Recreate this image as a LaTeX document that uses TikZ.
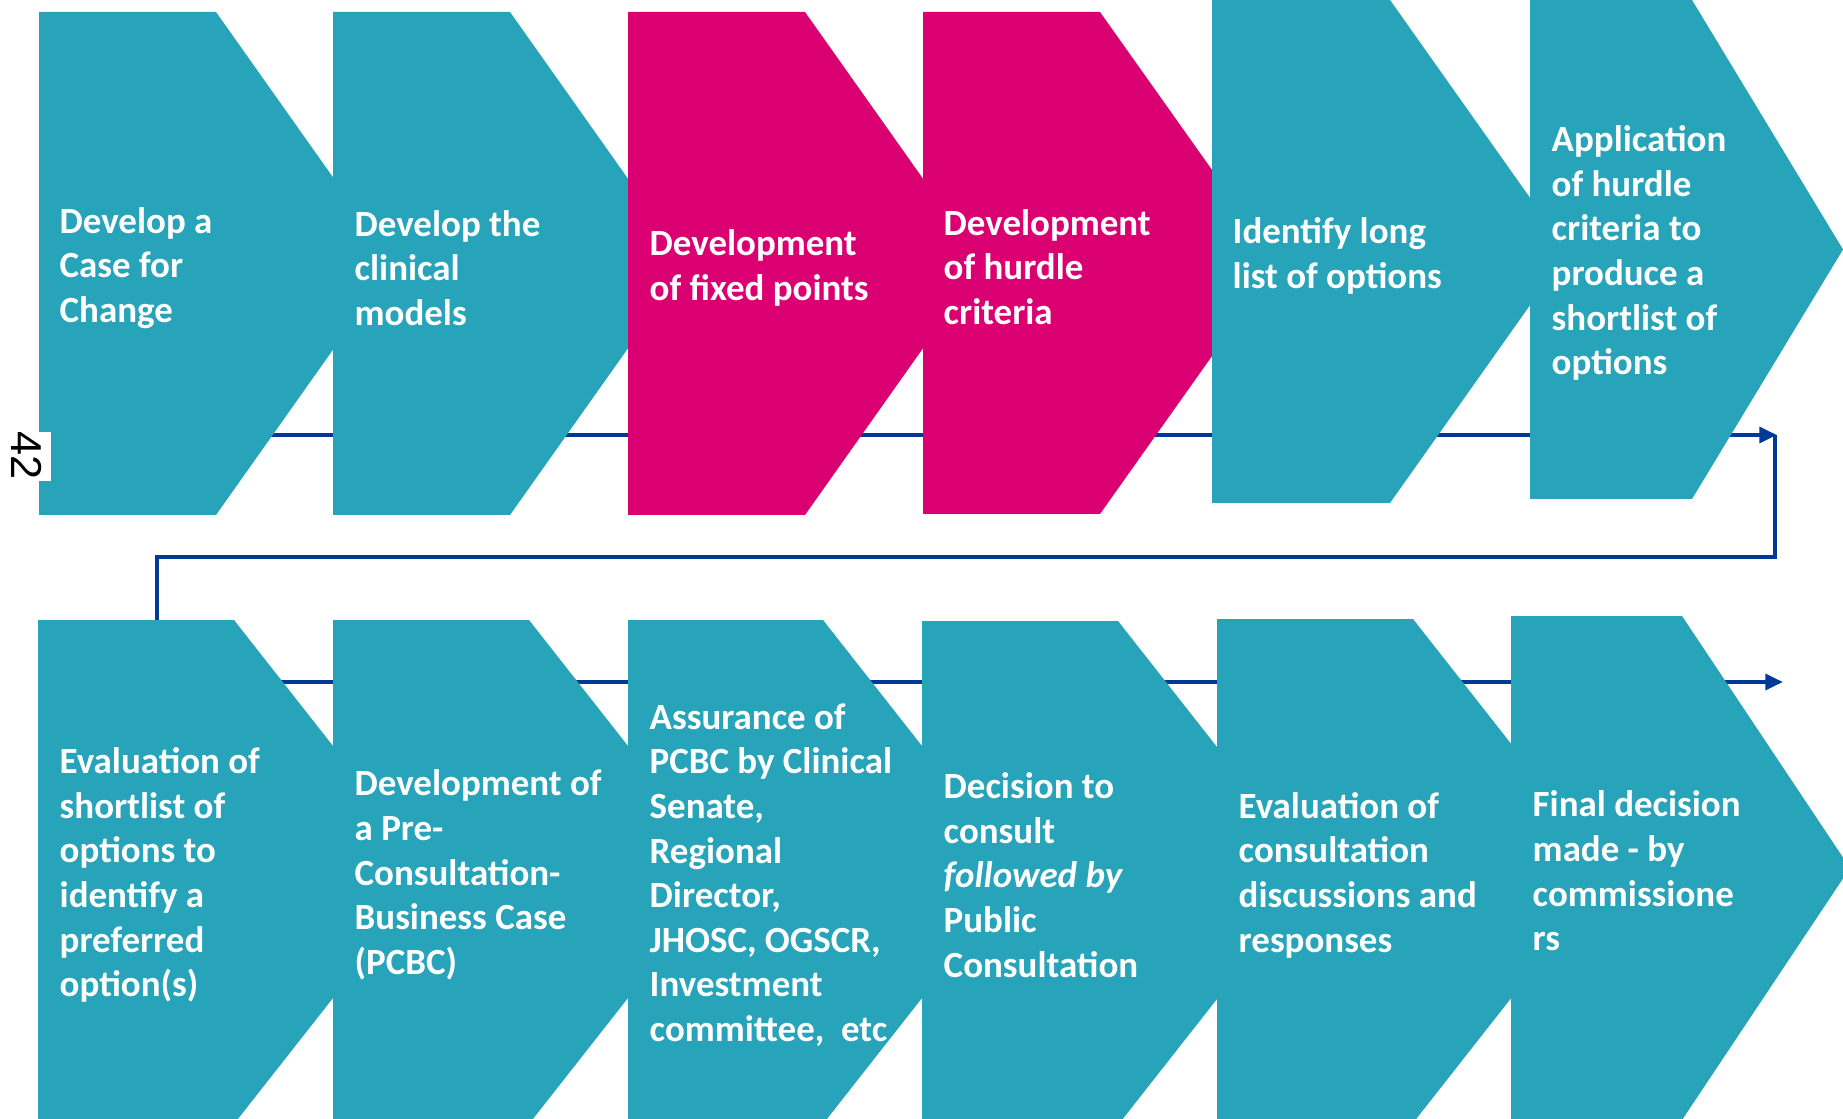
\documentclass[tikz,border=0pt]{standalone}
\usepackage{fontspec}
\setmainfont{Carlito}
\newfontfamily\pagefont{Liberation Sans}
\usetikzlibrary{arrows.meta}

\definecolor{nhsteal}{RGB}{39,164,185}
\definecolor{nhspink}{RGB}{219,0,114}
\definecolor{flowblue}{RGB}{0,58,150}

\tikzset{
	steptext/.style={anchor=west, inner sep=0pt, align=left, text=white,
		font=\bfseries\fontsize{10.5}{12.7}\selectfont},
	flow/.style={draw=flowblue, line width=1.2pt},
	flowarrow/.style={flow, -{Triangle[length=5pt, width=4.4pt]}}
}

\begin{document}
\begin{tikzpicture}[x=0.01cm, y=-0.01cm]
	\useasboundingbox (0,0) rectangle (1843,1119);
	\clip (0,0) rectangle (1843,1119);

	% connectors behind the stages
	\coordinate (r1start) at (150,435);
	\coordinate (r1end) at (1777,435);
	\coordinate (r1turn) at (1775,557);
	\coordinate (r2top) at (157,620);
	\coordinate (r2start) at (150,682);
	\coordinate (r2end) at (1783,682);
	\draw[flowarrow] (r1start) -- (r1end);
	\draw[flow] (1775,435) -- (r1turn) -| (r2top);
	\draw[flowarrow] (r2start) -- (r2end);

	% stages: left/top/corner/tip/height/colour
	\foreach \l/\t/\r/\p/\h/\c in {
		39/12/216/394/503/nhsteal, 333/12/510/688/503/nhsteal,
		628/12/805/983/503/nhspink, 923/12/1100/1278/502/nhspink,
		1212/0/1390/1568/503/nhsteal, 1530/0/1692/1843/499/nhsteal,
		38/620/234/432/504/nhsteal, 333/620/529/727/504/nhsteal,
		628/620/823/1021/504/nhsteal, 922/621/1118/1316/504/nhsteal,
		1217/619/1413/1611/504/nhsteal, 1511/616/1682/1850/504/nhsteal}
		\fill[\c] (\l,\t) -- (\r,\t) -- (\p,\t+\h/2) -- (\r,\t+\h) -- (\l,\t+\h) -- cycle;

	\node[steptext] (s1) at (59,268){Develop a\\Case for\\Change};
	\node[steptext] (s2) at (354,268){Develop the\\clinical\\models};
	\node[steptext] (s3) at (649,268){Development\\of fixed points};
	\node[steptext] (s4) at (943,267){Development\\of hurdle\\criteria};
	\node[steptext] (s5) at (1232,256){Identify long\\list of options};
	\node[steptext] (s6) at (1551,253){Application\\of hurdle\\criteria to\\produce a\\shortlist of\\options};

	\node[steptext] (b1) at (59,875){Evaluation of\\shortlist of\\options to\\identify a\\preferred\\option(s)};
	\node[steptext] (b2) at (354,875){Development of\\a Pre-\\Consultation-\\Business Case\\(PCBC)};
	\node[steptext] (b3) at (649,875){Assurance of\\PCBC by Clinical\\Senate,\\Regional\\Director,\\JHOSC, OGSCR,\\Investment\\committee,\ \ etc};
	\node[steptext] (b4) at (943,875){Decision to\\consult\\\textit{followed by}\\Public\\Consultation};
	\node[steptext] (b5) at (1238,875){Evaluation of\\consultation\\discussions and\\responses};
	\node[steptext] (b6) at (1532,871){Final decision\\made - by\\commissione\\rs};

	% page number
	\fill[white] (0,432) rectangle (51,481);
	\node[rotate=-90, inner sep=0pt, font=\pagefont\fontsize{12.3}{14}\selectfont] (page) at (27,456){42};
\end{tikzpicture}
\end{document}
